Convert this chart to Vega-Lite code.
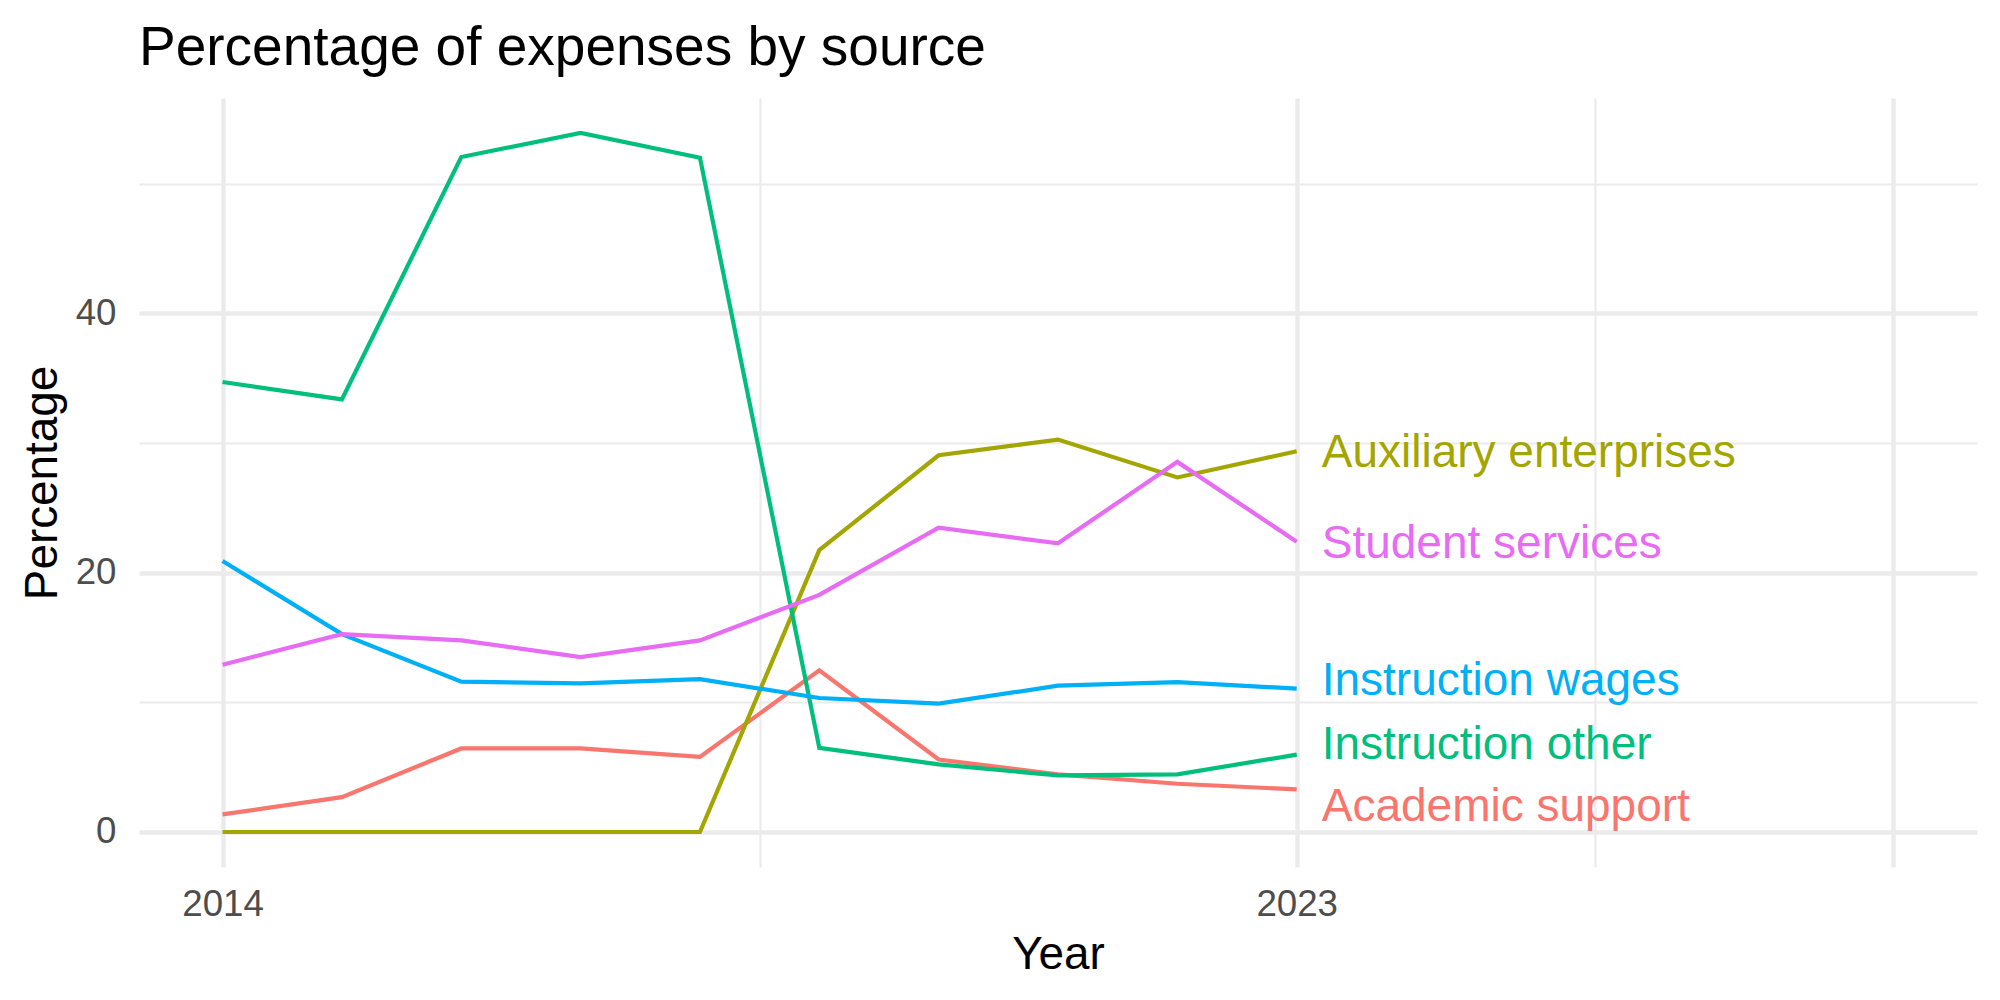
{
  "$schema": "https://vega.github.io/schema/vega-lite/v6.json",
  "width": 1838,
  "height": 769,
  "autosize": {"type": "none"},
  "padding": {"left": 139, "top": 98, "right": 23, "bottom": 133},
  "background": "white",
  "config": {
    "view": {"stroke": null},
    "font": "Liberation Sans",
    "axis": {"zindex": 0}
  },
  "title": {
    "text": "Percentage of expenses by source",
    "anchor": "start",
    "frame": "group",
    "font": "Liberation Sans",
    "fontSize": 55,
    "fontWeight": "normal",
    "color": "black",
    "baseline": "alphabetic",
    "offset": 24,
    "dy": 46
  },
  "data": {
    "values": [
      {"year": 2014, "source": "Academic support", "pct": 1.36},
      {"year": 2015, "source": "Academic support", "pct": 2.69},
      {"year": 2016, "source": "Academic support", "pct": 6.44},
      {"year": 2017, "source": "Academic support", "pct": 6.44},
      {"year": 2018, "source": "Academic support", "pct": 5.79},
      {"year": 2019, "source": "Academic support", "pct": 12.46},
      {"year": 2020, "source": "Academic support", "pct": 5.59},
      {"year": 2021, "source": "Academic support", "pct": 4.44},
      {"year": 2022, "source": "Academic support", "pct": 3.72},
      {"year": 2023, "source": "Academic support", "pct": 3.28},
      {"year": 2014, "source": "Auxiliary enterprises", "pct": 0},
      {"year": 2015, "source": "Auxiliary enterprises", "pct": 0},
      {"year": 2016, "source": "Auxiliary enterprises", "pct": 0},
      {"year": 2017, "source": "Auxiliary enterprises", "pct": 0},
      {"year": 2018, "source": "Auxiliary enterprises", "pct": 0},
      {"year": 2019, "source": "Auxiliary enterprises", "pct": 21.74},
      {"year": 2020, "source": "Auxiliary enterprises", "pct": 29.05},
      {"year": 2021, "source": "Auxiliary enterprises", "pct": 30.26},
      {"year": 2022, "source": "Auxiliary enterprises", "pct": 27.34},
      {"year": 2023, "source": "Auxiliary enterprises", "pct": 29.36},
      {"year": 2014, "source": "Instruction other", "pct": 34.7},
      {"year": 2015, "source": "Instruction other", "pct": 33.36},
      {"year": 2016, "source": "Instruction other", "pct": 52.05},
      {"year": 2017, "source": "Instruction other", "pct": 53.9},
      {"year": 2018, "source": "Instruction other", "pct": 52.0},
      {"year": 2019, "source": "Instruction other", "pct": 6.49},
      {"year": 2020, "source": "Instruction other", "pct": 5.21},
      {"year": 2021, "source": "Instruction other", "pct": 4.36},
      {"year": 2022, "source": "Instruction other", "pct": 4.44},
      {"year": 2023, "source": "Instruction other", "pct": 5.97},
      {"year": 2014, "source": "Instruction wages", "pct": 20.9},
      {"year": 2015, "source": "Instruction wages", "pct": 15.26},
      {"year": 2016, "source": "Instruction wages", "pct": 11.59},
      {"year": 2017, "source": "Instruction wages", "pct": 11.46},
      {"year": 2018, "source": "Instruction wages", "pct": 11.79},
      {"year": 2019, "source": "Instruction wages", "pct": 10.33},
      {"year": 2020, "source": "Instruction wages", "pct": 9.9},
      {"year": 2021, "source": "Instruction wages", "pct": 11.28},
      {"year": 2022, "source": "Instruction wages", "pct": 11.56},
      {"year": 2023, "source": "Instruction wages", "pct": 11.05},
      {"year": 2014, "source": "Student services", "pct": 12.9},
      {"year": 2015, "source": "Student services", "pct": 15.26},
      {"year": 2016, "source": "Student services", "pct": 14.77},
      {"year": 2017, "source": "Student services", "pct": 13.49},
      {"year": 2018, "source": "Student services", "pct": 14.77},
      {"year": 2019, "source": "Student services", "pct": 18.28},
      {"year": 2020, "source": "Student services", "pct": 23.46},
      {"year": 2021, "source": "Student services", "pct": 22.26},
      {"year": 2022, "source": "Student services", "pct": 28.54},
      {"year": 2023, "source": "Student services", "pct": 22.38}
    ]
  },
  "resolve": {"axis": {"x": "independent", "y": "independent"}},
  "layer": [
    {
      "mark": {"type": "line", "strokeWidth": 4.2},
      "encoding": {
        "x": {
          "field": "year",
          "type": "quantitative",
          "scale": {"domain": [2013.3, 2028.7], "nice": false, "zero": false},
          "axis": {
            "orient": "bottom",
            "values": [2014, 2023, 2028],
            "format": "d",
            "labelExpr": "datum.value == 2028 ? '' : datum.label",
            "grid": true,
            "gridColor": "#EBEBEB",
            "gridWidth": 4.4,
            "domain": false,
            "ticks": false,
            "labelPadding": 48,
            "labelBaseline": "alphabetic",
            "labelFont": "Liberation Sans",
            "labelFontSize": 36.7,
            "labelColor": "#4D4D4D",
            "labelFlush": false,
            "labelOverlap": false,
            "title": "Year",
            "titleFont": "Liberation Sans",
            "titleFontSize": 45.8,
            "titleFontWeight": "normal",
            "titleColor": "black",
            "titleAlign": "center",
            "titleBaseline": "alphabetic",
            "titleX": 919,
            "titleY": 101
          }
        },
        "y": {
          "field": "pct",
          "type": "quantitative",
          "scale": {"domain": [-2.7, 56.6], "nice": false, "zero": false},
          "axis": {
            "orient": "left",
            "values": [0, 20, 40],
            "grid": true,
            "gridColor": "#EBEBEB",
            "gridWidth": 4.4,
            "domain": false,
            "ticks": false,
            "labelPadding": 23,
            "labelBaseline": "middle",
            "labelFont": "Liberation Sans",
            "labelFontSize": 36.7,
            "labelColor": "#4D4D4D",
            "labelFlush": false,
            "labelOverlap": false,
            "title": "Percentage",
            "titleFont": "Liberation Sans",
            "titleFontSize": 45.8,
            "titleFontWeight": "normal",
            "titleColor": "black",
            "titleAngle": 270,
            "titleAlign": "center",
            "titleBaseline": "alphabetic",
            "titleX": -83,
            "titleY": 384.5
          }
        },
        "color": {
          "field": "source",
          "type": "nominal",
          "scale": {
            "domain": ["Academic support", "Auxiliary enterprises", "Instruction other", "Instruction wages", "Student services"],
            "range": ["#F8766D", "#A3A500", "#00BF7D", "#00B0F6", "#E76BF3"]
          },
          "legend": null
        }
      }
    },
    {
      "transform": [{"filter": "datum.year == 2023"}],
      "encoding": {
        "x": {
          "field": "year",
          "type": "quantitative",
          "scale": {"domain": [2013.3, 2028.7], "nice": false, "zero": false},
          "axis": {
            "orient": "bottom",
            "values": [2018.5, 2025.5],
            "grid": true,
            "gridColor": "#EBEBEB",
            "gridWidth": 2.2,
            "domain": false,
            "ticks": false,
            "labels": false,
            "title": null
          }
        },
        "y": {
          "field": "pct",
          "type": "quantitative",
          "scale": {"domain": [-2.7, 56.6], "nice": false, "zero": false},
          "axis": {
            "orient": "left",
            "values": [10, 30, 50],
            "grid": true,
            "gridColor": "#EBEBEB",
            "gridWidth": 2.2,
            "domain": false,
            "ticks": false,
            "labels": false,
            "title": null
          }
        },
        "color": {"field": "source", "type": "nominal", "legend": null},
        "text": {"field": "source", "type": "nominal"}
      },
      "layer": [
        {
          "transform": [{"filter": "datum.source == 'Auxiliary enterprises' || datum.source == 'Student services'"}],
          "mark": {"type": "text", "align": "left", "baseline": "middle", "dx": 25, "dy": 2, "fontSize": 46, "font": "Liberation Sans"}
        },
        {
          "transform": [{"filter": "datum.source == 'Instruction wages'"}],
          "mark": {"type": "text", "align": "left", "baseline": "middle", "dx": 25, "dy": -8, "fontSize": 46, "font": "Liberation Sans"}
        },
        {
          "transform": [{"filter": "datum.source == 'Instruction other'"}],
          "mark": {"type": "text", "align": "left", "baseline": "middle", "dx": 25, "dy": -10, "fontSize": 46, "font": "Liberation Sans"}
        },
        {
          "transform": [{"filter": "datum.source == 'Academic support'"}],
          "mark": {"type": "text", "align": "left", "baseline": "middle", "dx": 25, "dy": 18, "fontSize": 46, "font": "Liberation Sans"}
        }
      ]
    }
  ]
}
